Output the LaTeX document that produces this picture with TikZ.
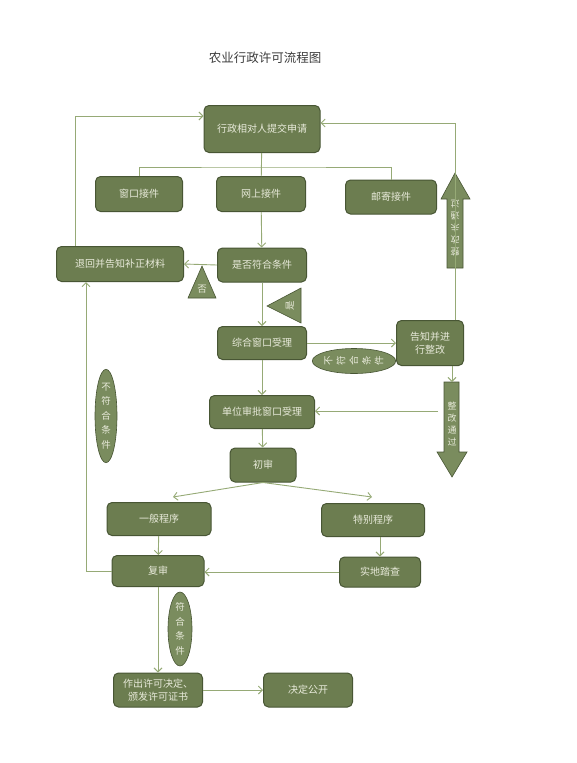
\documentclass[tikz,border=0pt]{standalone}
\usepackage{fontspec}
\usepackage{graphicx}
\newfontfamily\cjk{Noto Sans CJK SC}
\usetikzlibrary{arrows.meta,shapes.geometric}
\definecolor{boxfill}{RGB}{108,125,80}
\definecolor{boxline}{RGB}{72,86,52}
\definecolor{tagfill}{RGB}{122,140,94}
\definecolor{flowline}{RGB}{150,170,118}
\definecolor{boxtext}{RGB}{232,234,218}
\tikzset{
  box/.style={draw=boxline, fill=boxfill, rounded corners=5pt, line width=1pt, text=boxtext,
    font=\cjk\fontsize{10}{13}\selectfont, inner sep=0pt, align=center},
  tag/.style={draw=boxline, fill=tagfill, line width=0.6pt, text=boxtext, inner sep=0pt,
    font=\cjk\fontsize{9.5}{14.5}\selectfont, align=center},
  tagtext/.style={text=boxtext, inner sep=0pt, font=\cjk\fontsize{9.5}{12}\selectfont, align=center},
  link/.style={draw=flowline, line width=0.9pt},
  flow/.style={link, -{Straight Barb[length=4pt,width=8pt]}},
}
\begin{document}
\begin{tikzpicture}[x=1pt,y=1pt,yscale=-1,xscale=1]
  \useasboundingbox[fill=white] (0,0) rectangle (577,763);

  % Title
  \node[font=\cjk\fontsize{12.5}{14}\selectfont, text={rgb,255:red,60;green,60;blue,60}] (title) at (265,58) {农业行政许可流程图};

  % Boxes
  \node[box, minimum width=116, minimum height=47] (apply) at (262,129) {行政相对人提交申请};
  \node[box, minimum width=87, minimum height=35] (window) at (139,194) {窗口接件};
  \node[box, minimum width=89, minimum height=35] (online) at (261,194) {网上接件};
  \node[box, minimum width=91, minimum height=34] (mail) at (391,197) {邮寄接件};
  \node[box, minimum width=89, minimum height=34] (check) at (262,265) {是否符合条件};
  \node[box, minimum width=127, minimum height=35] (back) at (120,264) {退回并告知补正材料};
  \node[box, minimum width=89, minimum height=33] (accept) at (262,343) {综合窗口受理};
  \node[box, minimum width=67, minimum height=45] (notify) at (430,343) {告知并进\\行整改};
  \node[box, minimum width=105, minimum height=33] (unit) at (262,412) {单位审批窗口受理};
  \node[box, minimum width=66, minimum height=34] (first) at (263,465) {初审};
  \node[box, minimum width=104, minimum height=33] (general) at (159,519) {一般程序};
  \node[box, minimum width=103, minimum height=33] (special) at (373,520) {特别程序};
  \node[box, minimum width=92, minimum height=31] (review) at (158,571) {复审};
  \node[box, minimum width=81, minimum height=30] (site) at (380,572) {实地踏查};
  \node[box, minimum width=89, minimum height=34] (decide) at (158,690) {作出许可决定、\\颁发许可证书};
  \node[box, minimum width=89, minimum height=34] (public) at (308,690) {决定公开};

  % Labels
  \node[tag, ellipse, minimum width=22, minimum height=89] (nofitv) at (106,416) {不\\符\\合\\条\\件};
  \node[tag, ellipse, minimum width=24, minimum height=66] (fit) at (180,629) {符\\合\\条\\件};
  \node[tag, ellipse, minimum width=79, minimum height=25] (nofith) at (354,361)
    {\rotatebox{90}{不}\hspace{4pt}\rotatebox{90}{符}\hspace{4pt}\rotatebox{90}{合}\hspace{4pt}\rotatebox{90}{条}\hspace{4pt}\rotatebox{90}{件}};
  %Shape: Triangle
  \draw[tag] (202,266) -- (216,298) -- (188,298) -- cycle;
  \node[tagtext] (nolabel) at (202,289) {否};
  %Shape: Triangle
  \draw[tag] (267,306) -- (301,288) -- (301,323) -- cycle;
  \node[tagtext, rotate=90] (yeslabel) at (290,306) {是};

  %Shape: Block arrows
  \draw[tag] (455,173) -- (470,199) -- (463,199) -- (463,268) -- (447,268) -- (447,199) -- (441,199) -- cycle;
  \node[tagtext, font=\cjk\fontsize{9}{12}\selectfont, rotate=180] (failed) at (455,228) {整\\改\\未\\通\\过};
  \draw[tag] (444,382) -- (459,382) -- (459,452) -- (467,452) -- (452,477) -- (437,452) -- (444,452) -- cycle;
  \node[tagtext, font=\cjk\fontsize{9}{12}\selectfont] (passed) at (452,424) {整\\改\\通\\过};

  % Connectors
  \coordinate (split) at (262,167);
  \coordinate (backturn) at (75,116);
  \coordinate (retturn) at (455,123);
  \coordinate (passtop) at (452,382);
  \coordinate (passleft) at (438,411);
  \coordinate (leftrun) at (86,571);
  \coordinate (gentip) at (173,497);
  \coordinate (spetip) at (372,497);
  \draw[link] (apply) -- (online);
  \draw[link] (window.north) |- (split) -| (mail.north);
  \draw[flow] (online) -- (check);
  \draw[flow] (check.west) -- (back.east);
  \draw[flow] (check) -- (accept);
  \draw[flow] (accept.east) -- (notify.west);
  \draw[flow] (notify.north -| retturn) -- (retturn) -- (apply.east |- retturn);
  \draw[flow] (back.north -| backturn) -- (backturn) -- (apply.west |- backturn);
  \draw[flow] (notify.south -| passtop) -- (passtop);
  \draw[flow] (passleft) -- (unit.east |- passleft);
  \draw[flow] (accept) -- (unit);
  \draw[flow] (unit) -- (first);
  \draw[flow] (first.south) -- (gentip);
  \draw[flow] (first.south) -- (spetip);
  \draw[flow] (general) -- (review);
  \draw[flow] (special.south -| site.north) -- (site.north);
  \draw[flow] (site.west) -- (review.east |- site.west);
  \draw[flow] (review.west) -- (leftrun) -- (back.south -| leftrun);
  \draw[flow] (review) -- (decide);
  \draw[flow] (decide) -- (public);
\end{tikzpicture}
\end{document}
